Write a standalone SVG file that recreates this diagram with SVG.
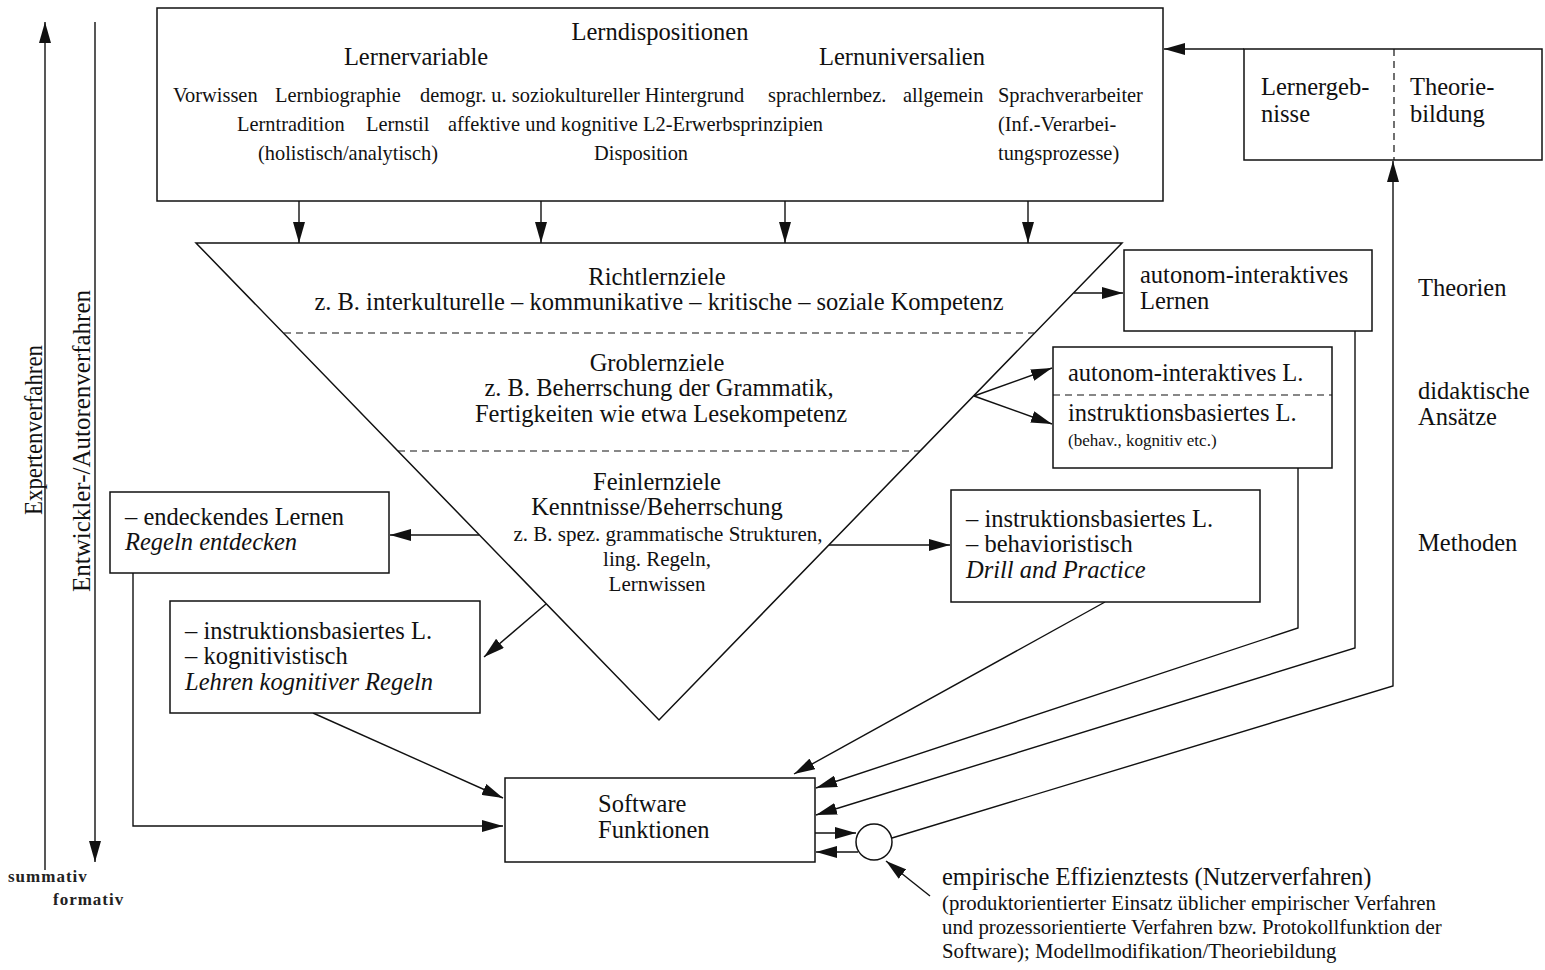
<svg xmlns="http://www.w3.org/2000/svg" width="1545" height="970" viewBox="0 0 1545 970">
<style>
.t{font-family:"Liberation Serif","Times New Roman",serif;fill:#111}
.f25{font-size:24.5px}.f24{font-size:24.5px}.f20{font-size:20.4px}.f21{font-size:20.8px}.f17{font-size:17px}.fs{font-size:21px}
.it{font-style:italic}
.mid{text-anchor:middle}
.box{fill:#fff;stroke:#111;stroke-width:1.5}
.ln{fill:none;stroke:#111;stroke-width:1.4}
.arr{marker-end:url(#ah)}
.dash{fill:none;stroke:#111;stroke-width:1.2;stroke-dasharray:7 5}
.mono{font-family:"Liberation Serif",serif;font-size:17px;letter-spacing:1px;font-weight:bold;fill:#222}
</style>
<defs>
<marker id="ah" markerUnits="userSpaceOnUse" markerWidth="22" markerHeight="12" refX="21" refY="6" orient="auto">
<path d="M0,0 L21,6 L0,12 z" fill="#111"/>
</marker>
</defs>

<g id="connectors">
<line class="ln arr" x1="299" y1="183" x2="299" y2="243"/>
<line class="ln arr" x1="541" y1="183" x2="541" y2="243"/>
<line class="ln arr" x1="785" y1="183" x2="785" y2="243"/>
<line class="ln arr" x1="1028" y1="183" x2="1028" y2="243"/>
<line class="ln arr" x1="1244" y1="49" x2="1164" y2="49"/>
<line class="ln arr" x1="1074" y1="293" x2="1123" y2="293"/>
<line class="ln arr" x1="974" y1="396" x2="1052" y2="368"/>
<line class="ln arr" x1="974" y1="396" x2="1052" y2="424"/>
<line class="ln arr" x1="479" y1="535" x2="390" y2="535"/>
<line class="ln arr" x1="829" y1="545" x2="950" y2="545"/>
<line class="ln arr" x1="546" y1="604" x2="484" y2="657"/>
<polyline class="ln arr" points="133,573 133,826 503,826"/>
<line class="ln arr" x1="313" y1="713" x2="503" y2="798"/>
<line class="ln arr" x1="1105" y1="602" x2="794" y2="774"/>
<polyline class="ln arr" points="1298,468 1298,628 816,788"/>
<polyline class="ln arr" points="1355,331 1355,648 816,815"/>
<polyline class="ln arr" points="892,838 1393,686 1393,161"/>
<line class="ln arr" x1="815" y1="833" x2="856" y2="833"/>
<line class="ln arr" x1="858" y1="852" x2="816" y2="852"/>
<line class="ln arr" x1="930" y1="896" x2="886" y2="861"/>
<line class="ln arr" x1="45" y1="870" x2="45" y2="22"/>
<line class="ln arr" x1="95" y1="22" x2="95" y2="862"/>
</g>

<g id="lerndispositionen">
<rect class="box" x="157" y="8" width="1006" height="193" fill="none"/>
<text class="t f25 mid" x="660" y="40">Lerndispositionen</text>
<text class="t f25 mid" x="416" y="65">Lernervariable</text>
<text class="t f25 mid" x="902" y="65">Lernuniversalien</text>
<text class="t f20" x="173" y="102">Vorwissen</text>
<text class="t f20" x="275" y="102">Lernbiographie</text>
<text class="t f20" x="420" y="102">demogr. u. soziokultureller Hintergrund</text>
<text class="t f20" x="768" y="102">sprachlernbez.</text>
<text class="t f20" x="903" y="102">allgemein</text>
<text class="t f20" x="998" y="102">Sprachverarbeiter</text>
<text class="t f20" x="237" y="131">Lerntradition</text>
<text class="t f20" x="366" y="131">Lernstil</text>
<text class="t f20" x="448" y="131">affektive und kognitive L2-Erwerbsprinzipien</text>
<text class="t f20" x="998" y="131">(Inf.-Verarbei-</text>
<text class="t f20" x="258" y="160">(holistisch/analytisch)</text>
<text class="t f20" x="594" y="160">Disposition</text>
<text class="t f20" x="998" y="160">tungsprozesse)</text>
</g>

<g id="lernziele">
<polygon points="196,243 1122,243 659,720" fill="#fff" stroke="#111" stroke-width="1.5"/>
<line class="dash" x1="284" y1="333" x2="1034" y2="333"/>
<line class="dash" x1="398" y1="451" x2="920" y2="451"/>
<text class="t f24 mid" x="657" y="285">Richtlernziele</text>
<text class="t f24 mid" x="659" y="310">z. B. interkulturelle – kommunikative – kritische – soziale Kompetenz</text>
<text class="t f24 mid" x="657" y="371">Groblernziele</text>
<text class="t f24 mid" x="659" y="396">z. B. Beherrschung der Grammatik,</text>
<text class="t f24 mid" x="661" y="422">Fertigkeiten wie etwa Lesekompetenz</text>
<text class="t f24 mid" x="657" y="490">Feinlernziele</text>
<text class="t f24 mid" x="657" y="515">Kenntnisse/Beherrschung</text>
<text class="t fs mid" x="668" y="541">z. B. spez. grammatische Strukturen,</text>
<text class="t fs mid" x="657" y="566">ling. Regeln,</text>
<text class="t fs mid" x="657" y="591">Lernwissen</text>
</g>

<g id="lernergebnisse">
<rect class="box" x="1244" y="49" width="298" height="111"/>
<line class="dash" x1="1394" y1="49" x2="1394" y2="160"/>
<text class="t f24" x="1261" y="95">Lernergeb-</text>
<text class="t f24" x="1261" y="122">nisse</text>
<text class="t f24" x="1410" y="95">Theorie-</text>
<text class="t f24" x="1410" y="122">bildung</text>
</g>

<g id="autonom-lernen">
<rect class="box" x="1124" y="250" width="248" height="81"/>
<text class="t f24" x="1140" y="283">autonom-interaktives</text>
<text class="t f24" x="1140" y="309">Lernen</text>
</g>

<g id="autonom-instruktion">
<rect class="box" x="1053" y="347" width="279" height="121"/>
<line class="dash" x1="1053" y1="395" x2="1332" y2="395"/>
<text class="t f24" x="1068" y="381">autonom-interaktives L.</text>
<text class="t f24" x="1068" y="421">instruktionsbasiertes L.</text>
<text class="t f17" x="1068" y="446">(behav., kognitiv etc.)</text>
</g>

<g id="endeckendes">
<rect class="box" x="110" y="492" width="279" height="81"/>
<text class="t f24" x="125" y="525">– endeckendes Lernen</text>
<text class="t f24 it" x="125" y="550">Regeln entdecken</text>
</g>

<g id="kognitivistisch">
<rect class="box" x="170" y="601" width="310" height="112"/>
<text class="t f24" x="185" y="639">– instruktionsbasiertes L.</text>
<text class="t f24" x="185" y="664">– kognitivistisch</text>
<text class="t f24 it" x="185" y="690">Lehren kognitiver Regeln</text>
</g>

<g id="behavioristisch">
<rect class="box" x="951" y="490" width="309" height="112"/>
<text class="t f24" x="966" y="527">– instruktionsbasiertes L.</text>
<text class="t f24" x="966" y="552">– behavioristisch</text>
<text class="t f24 it" x="966" y="578">Drill and Practice</text>
</g>

<g id="software">
<rect class="box" x="505" y="778" width="310" height="84"/>
<text class="t f24" x="598" y="812">Software</text>
<text class="t f24" x="598" y="838">Funktionen</text>
</g>

<g id="test-circle">
<circle cx="874" cy="842" r="18" fill="#fff" stroke="#111" stroke-width="1.5"/>
</g>

<g id="levels">
<text class="t f24" x="1418" y="296">Theorien</text>
<text class="t f24" x="1418" y="399">didaktische</text>
<text class="t f24" x="1418" y="425">Ansätze</text>
<text class="t f24" x="1418" y="551">Methoden</text>
</g>

<g id="axes">
<text class="t f24 mid" transform="translate(42,430) rotate(-90)" textLength="170" lengthAdjust="spacingAndGlyphs">Expertenverfahren</text>
<text class="t f24 mid" transform="translate(90,441) rotate(-90)" textLength="302" lengthAdjust="spacingAndGlyphs">Entwickler-/Autorenverfahren</text>
<text class="mono" x="8" y="882">summativ</text>
<text class="mono" x="53" y="905">formativ</text>
</g>

<g id="empirie">
<text class="t f25" x="942" y="885">empirische Effizienztests (Nutzerverfahren)</text>
<text class="t f21" x="942" y="910">(produktorientierter Einsatz üblicher empirischer Verfahren</text>
<text class="t f21" x="942" y="934">und prozessorientierte Verfahren bzw. Protokollfunktion der</text>
<text class="t f21" x="942" y="958">Software); Modellmodifikation/Theoriebildung</text>
</g>
</svg>
